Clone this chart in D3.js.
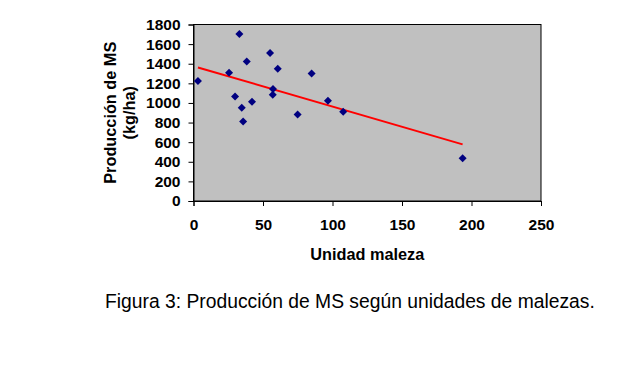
<!DOCTYPE html>
<html><head><meta charset="utf-8">
<script src="https://cdn.jsdelivr.net/npm/d3@7"></script>
<style>body{margin:0;background:#fff}svg{display:block}</style>
</head><body>
<script>
const malezas = [3.2, 25.6, 33.0, 29.9, 38.3, 34.7, 35.7, 42.1, 55.1, 57.2, 57.0, 60.6, 74.9, 85.0, 96.7, 107.7, 193.6];
const produccion = [1225, 1307, 1704, 1066, 1423, 950, 812, 1012, 1510, 1141, 1083, 1348, 883, 1301, 1022, 910, 435];
const xTicks = [0, 50, 100, 150, 200, 250];
const yTicks = [0, 200, 400, 600, 800, 1000, 1200, 1400, 1600, 1800];
const xTitle = "Unidad maleza";
const yTitle = ["Producción de MS", "(kg/ha)"];
const caption = "Figura 3: Producción de MS según unidades de malezas.";

const W = 626, H = 380;
const svg = d3.select("body").append("svg").attr("width", W).attr("height", H);
const L = 193.5, R = 541, T = 24.5, B = 201;
const x = d3.scaleLinear().domain([0, 250]).range([L, R]);
const y = d3.scaleLinear().domain([0, 1800]).range([B, T]);

svg.append("rect").attr("x", L).attr("y", T).attr("width", R - L).attr("height", B - T)
  .attr("fill", "#c0c0c0").attr("stroke", "#000").attr("stroke-width", 1);

const font = "Liberation Sans, Arial, sans-serif";
const xa = svg.append("g").attr("transform", `translate(0,${B})`)
  .call(d3.axisBottom(x).tickValues(xTicks).tickSize(5).tickPadding(13).tickFormat(d3.format("d")));
const ya = svg.append("g").attr("transform", `translate(${L},0)`)
  .call(d3.axisLeft(y).tickValues(yTicks).tickSize(5).tickPadding(8).tickFormat(d3.format("d")));
[xa, ya].forEach(a => {
  a.select(".domain").attr("stroke", "#000").attr("stroke-width", 1);
  a.selectAll(".tick line").attr("stroke", "#000");
  a.selectAll("text").attr("font-family", font).attr("font-size", 15.5).attr("font-weight", "bold").attr("fill", "#000");
});

// trend line (least squares)
const n = malezas.length;
const mx = d3.mean(malezas), my = d3.mean(produccion);
let sxy = 0, sxx = 0;
for (let i = 0; i < n; i++) { sxy += (malezas[i]-mx)*(produccion[i]-my); sxx += (malezas[i]-mx)**2; }
const b = sxy / sxx, a0 = my - b * mx;
const x0 = d3.min(malezas), x1 = d3.max(malezas);
svg.append("line").attr("x1", x(x0)).attr("y1", y(a0 + b*x0)).attr("x2", x(x1)).attr("y2", y(a0 + b*x1))
  .attr("stroke", "#ff0000").attr("stroke-width", 2);

svg.append("g").selectAll("path").data(malezas).join("path")
  .attr("d", "M0,-4L4,0L0,4L-4,0Z")
  .attr("transform", (d, i) => `translate(${x(d)},${y(produccion[i])})`)
  .attr("fill", "#000080");

svg.append("text").attr("x", (L + R) / 2).attr("y", 260).attr("text-anchor", "middle")
  .attr("font-family", font).attr("font-size", 16.3).attr("font-weight", "bold").text(xTitle);

const cy = (T + B) / 2;
yTitle.forEach((t, i) => {
  svg.append("text").attr("transform", `translate(${115.5 + i*19.5},${cy}) rotate(-90)`)
    .attr("text-anchor", "middle").attr("font-family", font).attr("font-size", 16.3).attr("font-weight", "bold").text(t);
});

svg.append("text").attr("x", 105).attr("y", 308).attr("font-family", font).attr("font-size", 19.3).text(caption);
</script>
</body></html>
